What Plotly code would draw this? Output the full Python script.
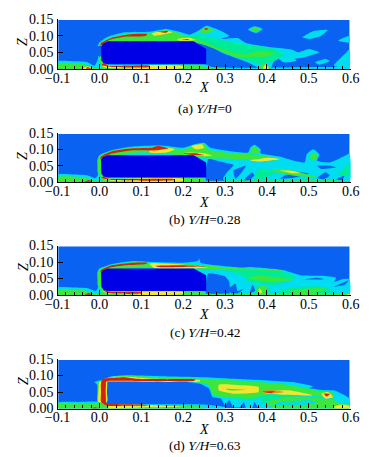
import plotly.graph_objects as go

# ---- tick labels / captions -------------------------------------------------
X_TICKS = [-0.1, 0.0, 0.1, 0.2, 0.3, 0.4, 0.5, 0.6]
Z_TICKS = [0.00, 0.05, 0.10, 0.15]
CAPTIONS = ["(a) <i>Y/H</i>=0", "(b) <i>Y/H</i>=0.28", "(c) <i>Y/H</i>=0.42", "(d) <i>Y/H</i>=0.63"]

COL = dict(bg="#0a62f2", body="#0000e6", cyan="#00dcf0", mint="#00eb96", green="#3ce63c",
           yellow="#f0e632", orange="#f58c14", red="#d2230f", white="#ffffff")

DOMAIN = [(-0.098, 0.597), (0.0, 0.147)]

# ---- contour regions (X, Z) ------------------------------------------------
BODY_A = [(0.255, 0.014), (0.02, 0.014), (0.01, 0.017), (0.005, 0.026), (0.004, 0.065), (0.008, 0.076), (0.02, 0.083), (0.225, 0.083), (0.255, 0.06)]
BODY_B = [(0.255, 0.014), (0.02, 0.014), (0.01, 0.017), (0.005, 0.026), (0.004, 0.068), (0.008, 0.076), (0.02, 0.082), (0.225, 0.082), (0.255, 0.06)]
BODY_C = [(0.255, 0.012), (0.02, 0.012), (0.01, 0.015), (0.005, 0.024), (0.004, 0.068), (0.008, 0.074), (0.02, 0.08), (0.225, 0.08), (0.255, 0.06)]

A = [
 ("cyan", [(-0.098,0),(-0.098,0.023),(-0.06,0.023),(-0.03,0.021),(-0.012,0.01),(-0.004,0.028),(-0.002,0.04),(0.005,0.03),(0.02,0.016),(0.25,0.016),(0.27,0.006),(0.4,0.004),(0.597,0.004),(0.597,0)]),
 ("cyan", [(-0.004,0.068),(0.0,0.08),(0.02,0.097),(0.06,0.11),(0.12,0.112),(0.16,0.12),(0.195,0.11),(0.215,0.103),(0.24,0.118),(0.255,0.13),(0.28,0.12),(0.31,0.1),(0.29,0.09),(0.33,0.093),(0.35,0.078),(0.41,0.065),(0.46,0.058),(0.475,0.05),(0.5,0.06),(0.525,0.05),(0.49,0.035),(0.46,0.03),(0.43,0.032),(0.415,0.02),(0.41,0.003),(0.385,0.003),(0.35,0.022),(0.30,0.045),(0.26,0.07),(0.22,0.08),(0.0,0.07)]),
 ("cyan", [(0.355,0.118),(0.37,0.128),(0.39,0.12),(0.375,0.108)]),
 ("cyan", [(0.485,0.095),(0.51,0.113),(0.545,0.117),(0.53,0.1),(0.5,0.09)]),
 ("cyan", [(0.57,0.085),(0.597,0.1),(0.597,0.08)]),
 ("cyan", [(0.515,0.02),(0.54,0.03),(0.55,0.024),(0.525,0.013)]),
 ("cyan", [(0.56,0.01),(0.59,0.05),(0.597,0.06),(0.597,0.005)]),
 ("cyan", [(0.425,0.035),(0.46,0.04),(0.47,0.025),(0.44,0.02)]),
 ("mint", [(0.2,0.1),(0.24,0.1),(0.3,0.085),(0.34,0.075),(0.42,0.06),(0.44,0.04),(0.39,0.015),(0.34,0.03),(0.28,0.06),(0.24,0.08)]),
 ("green", [(-0.098,0),(-0.098,0.017),(-0.06,0.018),(-0.035,0.014),(-0.012,0.003),(0.3,0.002),(0.3,0)]),
 ("green", [(0.0,0.07),(0.0,0.078),(0.03,0.095),(0.07,0.106),(0.12,0.108),(0.155,0.117),(0.185,0.11),(0.2,0.1),(0.24,0.088),(0.27,0.07),(0.32,0.05),(0.38,0.035),(0.33,0.035),(0.27,0.063),(0.23,0.08),(0.13,0.085)]),
 ("green", [(0.235,0.11),(0.255,0.127),(0.275,0.115),(0.255,0.108)]),
 ("green", [(0.36,0.118),(0.372,0.125),(0.385,0.12),(0.373,0.112)]),
 ("green", [(0.35,0.043),(0.38,0.053),(0.42,0.048),(0.395,0.036)]),
 ("green", [(0.375,0.003),(0.395,0.018),(0.41,0.003)]),
 ("green", [(0.0,0.025),(0.003,0.04),(0.012,0.02),(0.025,0.011),(0.25,0.011),(0.25,0.001),(0.01,0.001)]),
 ("yellow", [(-0.04,0.001),(-0.028,0.008),(-0.015,0.001)]),
 ("yellow", [(0.005,0.01),(0.02,0.003),(0.2,0.003),(0.2,0.009),(0.03,0.011)]),
 ("yellow", [(0.125,0.107),(0.16,0.114),(0.175,0.11),(0.13,0.1)]),
 ("yellow", [(0.185,0.09),(0.215,0.094),(0.23,0.087),(0.19,0.085)]),
 ("yellow", [(0.39,0.0),(0.397,0.014),(0.405,0.0)]),
 ("red", [(0.002,0.07),(0.004,0.078),(0.03,0.094),(0.08,0.105),(0.115,0.105),(0.11,0.099),(0.06,0.097),(0.025,0.088),(0.008,0.075)]),
 ("red", [(0.14,0.112),(0.165,0.114),(0.16,0.109)]),
 ("red", [(0.195,0.09),(0.215,0.09),(0.21,0.087)]),
 ("red", [(0.25,0.122),(0.26,0.122),(0.255,0.116)]),
 ("red", [(0.01,0.017),(0.022,0.01),(0.12,0.01),(0.12,0.006),(0.03,0.006),(0.005,0.012)]),
 ("red", [(-0.032,0.001),(-0.028,0.006),(-0.02,0.001)]),
]

B = [
 ("cyan", [(-0.098,0),(-0.098,0.023),(-0.06,0.023),(-0.03,0.021),(-0.01,0.012),(-0.004,0.02),(-0.004,0.07),(0.0,0.082),(0.03,0.098),(0.08,0.109),(0.15,0.112),(0.2,0.105),(0.225,0.115),(0.25,0.12),(0.265,0.105),(0.31,0.095),(0.355,0.09),(0.36,0.105),(0.37,0.114),(0.385,0.1),(0.385,0.088),(0.43,0.078),(0.465,0.065),(0.49,0.06),(0.495,0.085),(0.51,0.1),(0.525,0.085),(0.52,0.065),(0.55,0.06),(0.59,0.083),(0.597,0.087),(0.597,0.0)]),
 ("bg", [(0.255,0.003),(0.26,0.07),(0.29,0.062),(0.32,0.052),(0.305,0.03),(0.295,0.01),(0.3,0.002)]),
 ("bg", [(0.32,0.035),(0.35,0.05),(0.34,0.03),(0.325,0.01)]),
 ("bg", [(0.345,0.005),(0.365,0.03),(0.37,0.02),(0.355,0.004)]),
 ("bg", [(0.43,0.01),(0.46,0.03),(0.5,0.026),(0.46,0.012)]),
 ("bg", [(0.52,0.012),(0.54,0.03),(0.55,0.02),(0.535,0.008)]),
 ("bg", [(0.52,0.05),(0.55,0.05),(0.565,0.045),(0.53,0.04)]),
 ("bg", [(0.565,0.008),(0.585,0.02),(0.58,0.006)]),
 ("mint", [(0.37,0.005),(0.38,0.04),(0.42,0.03),(0.39,0.01)]),
 ("mint", [(0.5,0.07),(0.51,0.09),(0.52,0.075)]),
 ("mint", [(0.57,0.02),(0.597,0.055),(0.597,0.02)]),
 ("green", [(-0.098,0),(-0.098,0.016),(-0.06,0.017),(-0.035,0.014),(-0.012,0.005),(0.597,0.003),(0.597,0)]),
 ("green", [(-0.003,0.07),(0.0,0.08),(0.03,0.096),(0.08,0.106),(0.15,0.108),(0.2,0.1),(0.225,0.112),(0.25,0.117),(0.26,0.1),(0.3,0.09),(0.36,0.085),(0.42,0.075),(0.43,0.067),(0.36,0.068),(0.3,0.072),(0.26,0.072),(0.21,0.08),(0.1,0.09),(0.02,0.075)]),
 ("green", [(0.36,0.09),(0.37,0.11),(0.382,0.095),(0.38,0.087)]),
 ("green", [(0.503,0.075),(0.51,0.09),(0.522,0.08),(0.515,0.066)]),
 ("green", [(-0.004,0.03),(-0.004,0.05),(-0.004,0.07),(0.004,0.07),(0.004,0.05),(0.004,0.028)]),
 ("green", [(0.41,0.035),(0.46,0.02),(0.52,0.015),(0.47,0.032),(0.44,0.04)]),
 ("green", [(0.0,0.025),(0.003,0.035),(0.012,0.02),(0.025,0.011),(0.25,0.011),(0.25,0.001),(0.01,0.001)]),
 ("yellow", [(0.36,0.066),(0.405,0.074),(0.43,0.07),(0.38,0.063)]),
 ("yellow", [(0.43,0.035),(0.46,0.027),(0.48,0.027),(0.455,0.035)]),
 ("yellow", [(0.22,0.11),(0.245,0.115),(0.25,0.105),(0.23,0.1)]),
 ("yellow", [(0.12,0.103),(0.15,0.107),(0.18,0.1),(0.16,0.09),(0.12,0.09)]),
 ("yellow", [(0.205,0.09),(0.25,0.088),(0.27,0.08),(0.23,0.08)]),
 ("yellow", [(0.005,0.012),(0.03,0.003),(0.2,0.003),(0.2,0.01),(0.03,0.01)]),
 ("red", [(0.002,0.07),(0.004,0.078),(0.03,0.094),(0.08,0.103),(0.125,0.105),(0.14,0.11),(0.165,0.103),(0.14,0.097),(0.08,0.097),(0.03,0.087),(0.008,0.075)]),
 ("red", [(0.2,0.087),(0.23,0.088),(0.25,0.082),(0.22,0.083)]),
 ("red", [(0.01,0.017),(0.022,0.01),(0.18,0.009),(0.18,0.006),(0.03,0.006),(0.005,0.012)]),
 ("red", [(-0.035,0.001),(-0.025,0.006),(-0.018,0.001)]),
]

C = [
 ("cyan", [(-0.098,0),(-0.098,0.023),(-0.06,0.023),(-0.03,0.021),(-0.01,0.012),(-0.004,0.02),(-0.004,0.07),(0.0,0.08),(0.03,0.094),(0.08,0.103),(0.13,0.1),(0.2,0.098),(0.235,0.103),(0.238,0.11),(0.242,0.098),(0.28,0.09),(0.34,0.083),(0.36,0.085),(0.38,0.083),(0.44,0.075),(0.48,0.06),(0.53,0.058),(0.565,0.052),(0.56,0.04),(0.58,0.048),(0.597,0.048),(0.597,0.0)]),
 ("bg", [(0.255,0.003),(0.26,0.065),(0.3,0.056),(0.31,0.04),(0.31,0.003)]),
 ("bg", [(0.31,0.02),(0.325,0.034),(0.33,0.012),(0.345,0.02),(0.33,0.004),(0.315,0.004)]),
 ("bg", [(0.36,0.006),(0.365,0.03),(0.375,0.015)]),
 ("bg", [(0.49,0.047),(0.52,0.052),(0.535,0.048)]),
 ("bg", [(0.56,0.025),(0.595,0.044),(0.585,0.03)]),
 ("mint", [(0.35,0.08),(0.44,0.07),(0.47,0.055),(0.42,0.03),(0.36,0.04),(0.34,0.06),(0.3,0.075),(0.28,0.085)]),
 ("mint", [(0.375,0.005),(0.37,0.025),(0.385,0.03),(0.41,0.015),(0.4,0.005)]),
 ("mint", [(0.42,0.01),(0.47,0.024),(0.53,0.025),(0.56,0.012),(0.53,0.004),(0.46,0.004)]),
 ("green", [(-0.098,0),(-0.098,0.016),(-0.06,0.017),(-0.035,0.014),(-0.012,0.005),(0.597,0.003),(0.597,0)]),
 ("green", [(-0.003,0.068),(0.0,0.078),(0.03,0.09),(0.08,0.1),(0.13,0.096),(0.2,0.095),(0.27,0.088),(0.34,0.08),(0.42,0.078),(0.44,0.072),(0.34,0.075),(0.26,0.079),(0.1,0.085)]),
 ("green", [(-0.004,0.03),(-0.004,0.05),(-0.004,0.07),(0.004,0.07),(0.004,0.05),(0.004,0.02)]),
 ("green", [(0.355,0.05),(0.38,0.06),(0.44,0.05),(0.46,0.045),(0.41,0.04)]),
 ("green", [(0.375,0.01),(0.385,0.03),(0.4,0.025),(0.395,0.006)]),
 ("green", [(0.45,0.012),(0.5,0.02),(0.54,0.02),(0.52,0.008),(0.47,0.006)]),
 ("green", [(0.0,0.025),(0.003,0.03),(0.012,0.02),(0.025,0.01),(0.25,0.01),(0.25,0.001),(0.01,0.001)]),
 ("yellow", [(0.12,0.095),(0.2,0.092),(0.26,0.084),(0.21,0.08),(0.13,0.082)]),
 ("yellow", [(0.38,0.01),(0.382,0.02),(0.388,0.012),(0.386,0.004)]),
 ("yellow", [(0.59,0.0),(0.597,0.004),(0.597,0.0)]),
 ("yellow", [(0.005,0.012),(0.03,0.003),(0.2,0.003),(0.2,0.009),(0.03,0.009)]),
 ("red", [(0.002,0.07),(0.004,0.076),(0.03,0.09),(0.08,0.098),(0.115,0.098),(0.11,0.094),(0.06,0.09),(0.025,0.083),(0.008,0.072)]),
 ("red", [(0.135,0.088),(0.2,0.09),(0.255,0.087),(0.2,0.085),(0.14,0.085)]),
 ("red", [(0.01,0.015),(0.02,0.006),(0.1,0.005),(0.1,0.009),(0.028,0.009)]),
 ("red", [(-0.035,0.001),(-0.025,0.006),(-0.018,0.001)]),
]

D = [
 ("cyan", [(-0.004,0.02),(-0.004,0.07),(-0.012,0.08),(0.0,0.085),(0.03,0.098),(0.07,0.101),(0.15,0.098),(0.25,0.095),(0.32,0.09),(0.4,0.085),(0.46,0.08),(0.51,0.067),(0.5,0.062),(0.46,0.063),(0.43,0.068),(0.48,0.058),(0.53,0.055),(0.56,0.055),(0.597,0.03),(0.597,0.0),(0.42,0),(0.38,0.002),(0.37,0.02),(0.365,0.002),(0.35,0.001),(0.345,0.02),(0.335,0.004),(0.32,0.004),(0.31,0.025),(0.3,0.01),(0.29,0.03),(0.27,0.035),(0.262,0.06),(0.24,0.075),(0.2,0.082),(0.1,0.082),(0.018,0.082),(0.018,0.05),(0.018,0.02)]),
 ("cyan", [(-0.098,0),(-0.098,0.018),(-0.05,0.02),(-0.004,0.021),(0.018,0.014),(0.25,0.012),(0.3,0.004),(0.3,0)]),
 ("mint", [(0.25,0.08),(0.265,0.07),(0.27,0.04),(0.295,0.035),(0.31,0.032),(0.36,0.028),(0.39,0.032),(0.385,0.012),(0.4,0.02),(0.42,0.03),(0.5,0.04),(0.56,0.05),(0.51,0.06),(0.45,0.07),(0.38,0.08),(0.3,0.09)]),
 ("green", [(-0.098,0),(-0.098,0.016),(-0.05,0.016),(-0.005,0.015),(0.05,0.01),(0.25,0.005),(0.25,0)]),
 ("green", [(-0.004,0.02),(-0.004,0.05),(-0.003,0.08),(0.03,0.095),(0.07,0.099),(0.15,0.094),(0.25,0.09),(0.32,0.085),(0.4,0.078),(0.45,0.072),(0.5,0.058),(0.53,0.05),(0.556,0.048),(0.56,0.03),(0.535,0.035),(0.49,0.04),(0.42,0.048),(0.36,0.03),(0.34,0.032),(0.29,0.036),(0.27,0.045),(0.26,0.072),(0.22,0.082),(0.1,0.082),(0.018,0.082),(0.018,0.05),(0.018,0.02)]),
 ("green", [(0.4,0.015),(0.41,0.025),(0.45,0.035),(0.5,0.035),(0.56,0.025),(0.58,0.012),(0.597,0.012),(0.597,0),(0.42,0)]),
 ("cyan", [(0.415,0.012),(0.43,0.02),(0.5,0.025),(0.52,0.02),(0.5,0.012),(0.45,0.009)]),
 ("mint", [(0.42,0.014),(0.44,0.018),(0.49,0.018),(0.45,0.012)]),
 ("yellow", [(0.285,0.072),(0.32,0.072),(0.38,0.065),(0.38,0.05),(0.32,0.045),(0.285,0.055)]),
 ("green", [(0.3,0.06),(0.35,0.057),(0.31,0.055)]),
 ("yellow", [(0.39,0.05),(0.45,0.055),(0.51,0.04),(0.44,0.042),(0.4,0.045)]),
 ("yellow", [(0.53,0.045),(0.545,0.05),(0.558,0.035),(0.54,0.03)]),
 ("yellow", [(0.56,0.005),(0.58,0.012),(0.597,0.008),(0.597,0),(0.56,0)]),
 ("yellow", [(0.005,0.082),(0.03,0.095),(0.08,0.095),(0.13,0.09),(0.24,0.086),(0.24,0.082),(0.1,0.082),(0.01,0.082)]),
 ("orange", [(0.38,0.052),(0.415,0.055),(0.44,0.05),(0.41,0.045)]),
 ("yellow", [(-0.002,0.02),(-0.002,0.05),(0.0,0.08),(0.018,0.082),(0.018,0.05),(0.018,0.02)]),
 ("red", [(0.004,0.07),(0.006,0.088),(0.03,0.093),(0.06,0.095),(0.09,0.09),(0.16,0.089),(0.23,0.088),(0.225,0.083),(0.12,0.083),(0.02,0.083),(0.015,0.08),(0.004,0.07)]),
 ("red", [(0.004,0.075),(0.004,0.05),(0.004,0.02),(0.015,0.012),(0.015,0.05),(0.015,0.082)]),
 ("red", [(0.536,0.045),(0.55,0.044),(0.543,0.036)]),
 ("red", [(0.39,0.051),(0.42,0.052),(0.41,0.047)]),
 ("yellow", [(0.02,0.0),(0.1,0.003),(0.2,0.005),(0.1,0.011),(0.025,0.011)]),
 ("red", [(0.01,0.014),(0.05,0.013),(0.1,0.012),(0.12,0.009),(0.07,0.008),(0.02,0.008)]),
 ("red", [(-0.02,0.0),(-0.01,0.004),(0.0,0.0)]),
]

PANELS = [(A, BODY_A, 19, 69), (B, BODY_B, 133, 182), (C, BODY_C, 245.5, 295), (D, None, 359, 408.5)]
CAP_Y = [108, 219, 332, 445]
XLAB_Y = [88, 202, 314, 429]
ZLAB_Y = [42, 156, 267, 381]

W, H = 379, 457
LEFT, RIGHT = 57.5, 350.7

fig = go.Figure()
layout = dict(width=W, height=H, margin=dict(l=0, r=0, t=0, b=0, pad=0, autoexpand=False), paper_bgcolor="white",
              plot_bgcolor="white", showlegend=False, font=dict(family="Liberation Serif", size=14, color="black"),
              annotations=[])

def add_region(i, color, pts, smooth=True):
    xs = [p[0] for p in pts] + [pts[0][0]]
    zs = [p[1] for p in pts] + [pts[0][1]]
    line = dict(width=0, color=COL[color])
    if smooth:
        line.update(shape="spline", smoothing=0.5)
    fig.add_trace(go.Scatter(x=xs, y=zs, mode="lines", fill="toself", fillcolor=COL[color], line=line,
                             hoverinfo="skip", xaxis=f"x{i}", yaxis=f"y{i}"))

for i, (regions, body, top, bottom) in enumerate(PANELS, start=1):
    add_region(i, "bg", [(DOMAIN[0][0], DOMAIN[1][0]), (DOMAIN[0][1], DOMAIN[1][0]),
                         (DOMAIN[0][1], DOMAIN[1][1]), (DOMAIN[0][0], DOMAIN[1][1])], smooth=False)
    for color, pts in regions:
        add_region(i, color, pts)
    if body:
        add_region(i, "body", body, smooth=False)
    sfx = "" if i == 1 else str(i)
    layout[f"xaxis{sfx}"] = dict(
        domain=[LEFT / W, RIGHT / W], range=[-0.1, 0.6], anchor=f"y{i}", showgrid=False, zeroline=False,
        showline=True, linecolor="black", linewidth=1.3, ticks="inside", ticklen=5, tickwidth=1, tickcolor="black",
        tickvals=X_TICKS, ticktext=[f"{v:.1f}".replace("-", "\u2212") for v in X_TICKS], tickangle=0,
        minor=dict(dtick=0.02, tick0=0, ticks="inside", ticklen=3, tickwidth=1, tickcolor="black"),
        ticklabelstandoff=-4, layer="above traces",
    )
    layout[f"yaxis{sfx}"] = dict(
        domain=[1 - bottom / H, 1 - top / H], range=[0, 0.15], anchor=f"x{i}", showgrid=False, zeroline=False,
        showline=True, linecolor="black", linewidth=1.3, ticks="inside", ticklen=5, tickwidth=1, tickcolor="black",
        tickvals=Z_TICKS, ticktext=[f"{v:.2f}" for v in Z_TICKS],
        layer="above traces",
    )
    layout["annotations"] += [
        dict(text=CAPTIONS[i - 1], x=205 / W, y=1 - CAP_Y[i - 1] / H, xref="paper", yref="paper",
             showarrow=False, xanchor="center", yanchor="middle", font=dict(size=13.5)),
        dict(text="<i>X</i>", x=204 / W, y=1 - XLAB_Y[i - 1] / H, xref="paper", yref="paper",
             showarrow=False, xanchor="center", yanchor="middle", font=dict(size=14)),
        dict(text="<i>Z</i>", x=23 / W, y=1 - ZLAB_Y[i - 1] / H, xref="paper", yref="paper", textangle=-90,
             showarrow=False, xanchor="center", yanchor="middle", font=dict(size=14)),
    ]

fig.update_layout(**layout)
fig.write_html("out.html", config=dict(displayModeBar=False, responsive=False),
               post_script="document.body.style.margin='0';")
